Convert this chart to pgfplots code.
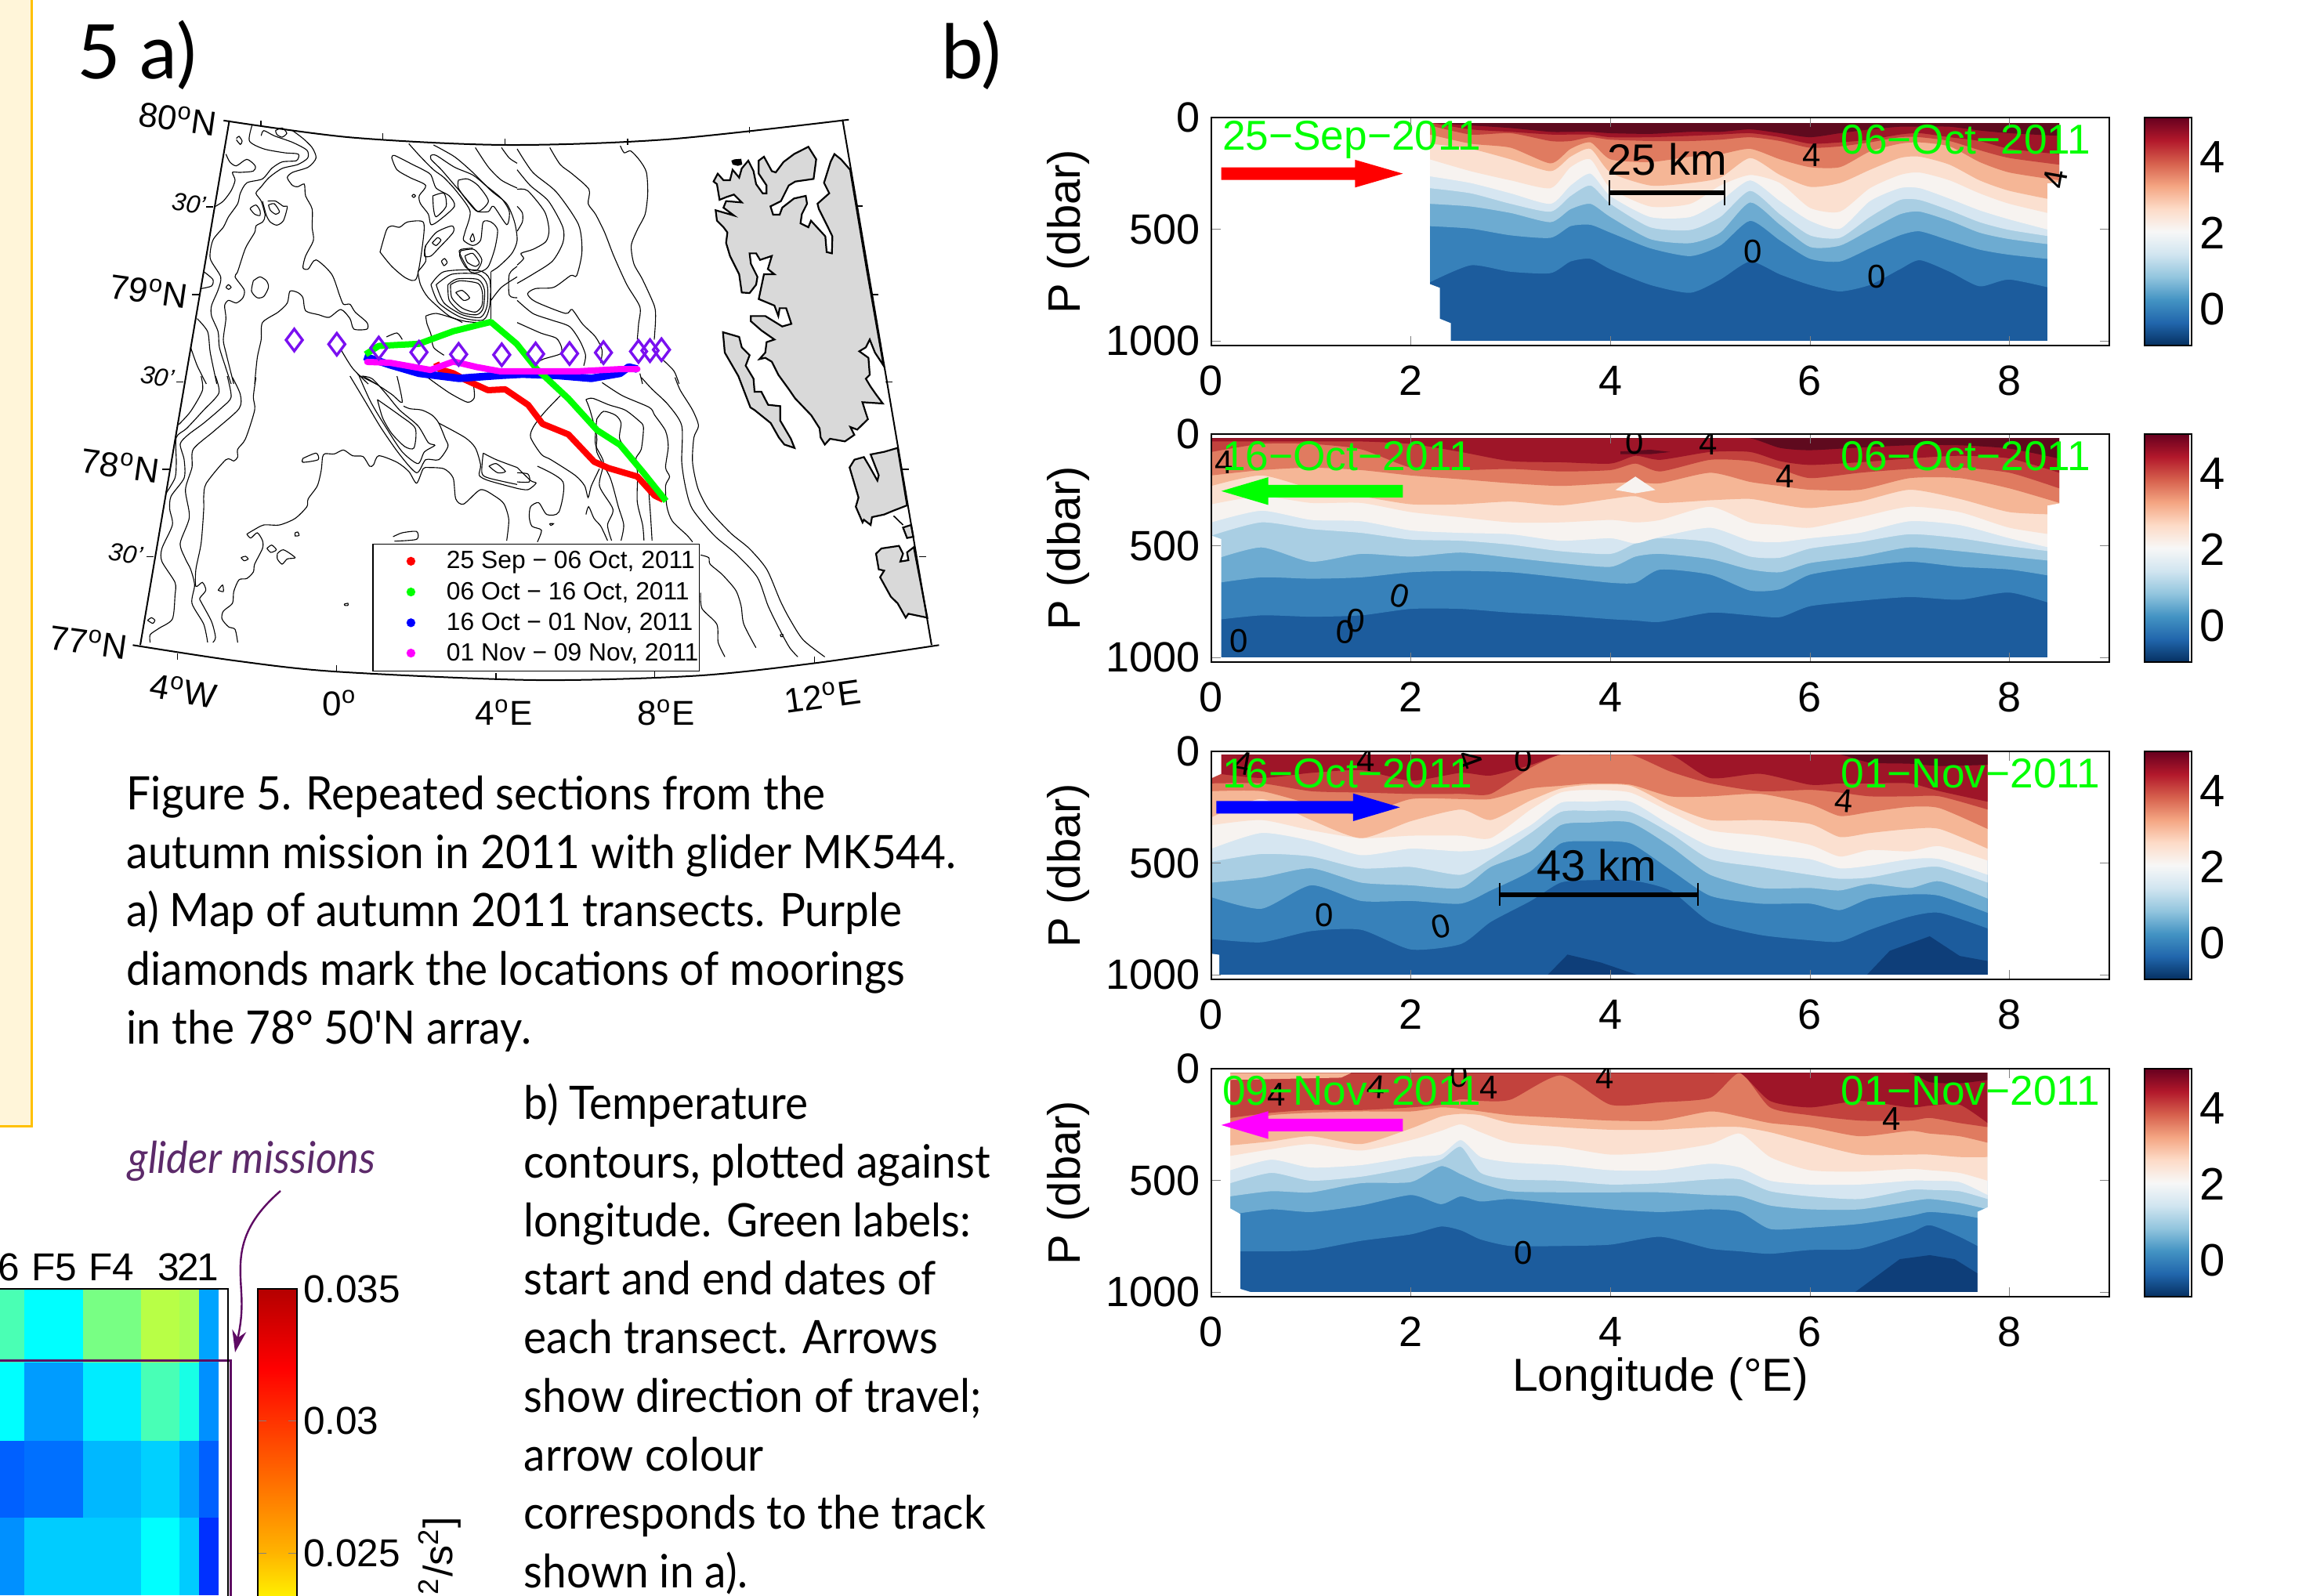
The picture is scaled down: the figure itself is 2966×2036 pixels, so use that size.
\documentclass[border=0pt]{standalone}
\usepackage{fontspec}
\setmainfont{Liberation Sans}
\newfontfamily\gill[FakeStretch=0.935]{Lato}
\newfontfamily\gillw{Lato}
\usepackage{pgfplots}
\usepackage{pgfplotstable}
\usetikzlibrary{arrows.meta}
\pgfplotsset{compat=1.18}
\definecolor{c00}{HTML}{0E3E79}
\definecolor{c0}{HTML}{1C5C9D}
\definecolor{c1}{HTML}{3781BA}
\definecolor{c2}{HTML}{6DABD1}
\definecolor{c3}{HTML}{A9CEE3}
\definecolor{c4}{HTML}{D6E6F1}
\definecolor{c5}{HTML}{F7F3F0}
\definecolor{c6}{HTML}{FBE0D0}
\definecolor{c7}{HTML}{F5B696}
\definecolor{c8}{HTML}{E07B60}
\definecolor{c9}{HTML}{C2423D}
\definecolor{c10}{HTML}{9E1528}
\definecolor{c11}{HTML}{5F0A1E}
\definecolor{gl}{HTML}{5E0A63}
\definecolor{gltext}{HTML}{5C2A6A}
\definecolor{land}{HTML}{D9D9D9}
\definecolor{dia}{HTML}{7A10F0}
\definecolor{mg}{HTML}{FF00FF}
\definecolor{cy}{HTML}{00FFFF}
\definecolor{gr}{HTML}{00FF00}
\pgfplotstableread{
name c1 c2 c3 c4 c5 c6 c7 c8 c9 c10 c11 c12 c13 c14 c15 c16 c17 c18 c19 c20 c21
lon 2.19 2.6 3.0 3.4 3.6 3.8 4.0 4.4 4.8 5.1 5.4 5.7 6.0 6.3 6.6 6.9 7.1 7.4 7.7 8.0 8.5
b1 737 661 690 696 644 632 679 749 784 725 644 702 749 778 749 679 638 690 755 725 772
b2 486 497 527 538 486 480 515 585 620 573 462 550 632 644 585 527 509 550 591 614 638
b3 386 398 427 468 410 386 445 544 562 515 380 480 579 573 503 433 421 462 515 544 573
b4 316 339 386 421 351 304 386 491 503 445 328 433 527 538 445 369 369 415 468 503 538
b5 263 293 339 386 304 251 351 445 445 374 281 374 462 497 374 316 316 363 415 456 515
b6 187 240 281 316 222 187 316 398 386 304 257 293 404 421 316 257 246 281 339 386 439
b7 117 140 187 240 175 140 246 304 293 269 181 257 310 293 234 181 175 211 281 328 374
b8 76 117 135 205 140 111 187 199 175 164 140 187 222 222 152 117 111 129 199 246 281
b9 35 76 70 105 105 88 99 105 105 99 88 105 135 129 111 88 88 105 146 181 211
b10 23 53 64 76 76 76 88 88 82 76 70 88 117 111 99 76 70 88 105 140 164
b11 23 35 47 64 64 64 70 73 64 64 53 70 88 70 53 41 41 41 58 70 82
}\rawA
\pgfplotstabletranspose[colnames from=name]\tabA{\rawA}
\pgfplotstableread{
name c1 c2 c3 c4 c5 c6 c7 c8 c9 c10 c11 c12 c13 c14 c15 c16 c17 c18 c19 c20
lon 0 0.5 1 1.5 2 2.5 3 3.5 4 4.25 4.5 5 5.4 5.7 6 6.5 7 7.5 8 8.5
b1 834 811 817 811 782 782 799 811 828 834 840 799 811 819 770 746 729 741 709 770
b2 670 641 647 641 618 612 618 641 665 665 606 629 700 694 629 594 571 594 606 641
b3 565 507 571 536 548 530 553 577 594 548 536 559 606 618 577 548 507 524 548 571
b4 454 395 425 442 472 477 495 524 536 489 466 483 548 553 512 483 448 466 501 530
b5 395 343 384 390 431 442 448 477 466 489 460 419 477 483 466 442 390 407 466 518
b6 314 278 308 308 349 372 395 395 384 395 384 325 395 407 419 372 325 349 419 454
b7 232 185 243 278 314 314 302 319 290 278 308 296 290 314 331 302 249 290 349 360
b8 185 161 150 161 185 202 220 232 220 214 220 173 214 232 249 249 197 197 243 308
b9 80 44 44 68 150 161 156 167 161 132 167 115 121 156 197 173 156 150 173 243
b10 33 33 33 33 44 80 121 126 132 97 115 80 80 121 138 126 109 97 109 173
b11 19 19 19 19 19 19 19 19 19 19 19 19 19 62 72 60 50 50 65 110
}\rawB
\pgfplotstabletranspose[colnames from=name]\tabB{\rawB}
\pgfplotstableread{
name c1 c2 c3 c4 c5 c6 c7 c8 c9 c10 c11 c12 c13 c14 c15 c16 c17 c18 c19 c20
lon 0 0.5 1 1.5 2 2.5 2.8 3.2 3.5 3.8 4.2 4.6 5 5.5 6 6.3 6.6 7 7.3 7.78
b1 839 854 804 798 886 862 763 669 587 576 576 622 763 821 845 851 798 739 722 792
b2 652 704 599 669 669 681 622 535 412 402 412 529 646 681 681 710 658 640 646 722
b3 587 564 523 587 599 611 517 447 330 318 318 424 552 611 611 622 593 611 581 658
b4 494 459 470 523 517 552 482 365 271 266 271 365 482 517 552 570 564 529 517 587
b5 435 365 400 464 435 447 429 330 230 225 225 330 424 459 482 523 511 482 482 552
b6 330 307 353 388 377 377 388 260 184 172 184 271 353 377 418 470 441 447 424 488
b7 295 213 307 388 312 260 307 219 166 149 154 242 307 307 324 383 365 347 347 435
b8 178 178 236 283 213 213 213 166 154 143 149 201 201 190 236 289 271 248 254 347
b9 143 143 178 184 190 190 190 73 14 14 14 90 143 178 172 184 201 201 201 260
b10 96 119 96 84 131 96 108 61 14 14 14 14 119 100 149 143 143 143 178 225
b11 14 14 14 14 14 14 14 14 14 14 14 14 14 14 14 14 50 55 65 60
}\rawC
\pgfplotstabletranspose[colnames from=name]\tabC{\rawC}
\pgfplotstableread{
name c1 c2 c3 c4 c5 c6 c7 c8 c9 c10 c11 c12 c13 c14 c15 c16 c17 c18 c19 c20 c21
lon 0.19 0.6 1 1.5 2 2.3 2.5 2.7 3 3.5 4 4.5 5 5.3 5.6 6 6.5 7 7.2 7.5 7.78
b1 817 817 811 770 741 706 723 764 793 793 787 752 805 817 828 811 805 735 700 752 817
b2 653 629 641 612 565 606 571 594 583 606 629 641 629 641 717 711 694 659 641 653 676
b3 571 548 553 512 507 436 472 512 548 553 553 553 565 571 612 629 629 594 583 600 629
b4 512 466 501 483 442 407 349 466 495 501 518 512 495 495 548 571 583 542 542 548 583
b5 454 407 442 431 395 384 319 395 419 431 454 454 425 442 501 518 518 501 501 507 565
b6 390 360 337 366 319 278 249 284 331 349 384 372 337 290 395 454 460 448 454 466 501
b7 343 325 302 337 267 214 202 208 243 261 273 273 261 261 284 331 384 384 384 395 395
b8 243 208 197 191 191 173 179 191 208 220 232 232 191 214 243 261 302 278 290 302 331
b9 220 197 185 185 173 161 136 144 138 30 161 150 130 19 173 208 232 232 220 243 261
b10 19 19 19 19 19 19 19 19 19 19 19 19 19 19 144 173 144 173 165 161 243
b11 19 19 19 19 19 19 19 19 19 19 19 19 19 19 19 19 19 19 60 65 50
}\rawD
\pgfplotstabletranspose[colnames from=name]\tabD{\rawD}
\newcommand\bands[1]{%
\addplot[fill=c1,draw=none,smooth,tension=0.4] table[x=lon,y=b1]{#1} \closedcycle;
\addplot[fill=c2,draw=none,smooth,tension=0.4] table[x=lon,y=b2]{#1} \closedcycle;
\addplot[fill=c3,draw=none,smooth,tension=0.4] table[x=lon,y=b3]{#1} \closedcycle;
\addplot[fill=c4,draw=none,smooth,tension=0.4] table[x=lon,y=b4]{#1} \closedcycle;
\addplot[fill=c5,draw=none,smooth,tension=0.4] table[x=lon,y=b5]{#1} \closedcycle;
\addplot[fill=c6,draw=none,smooth,tension=0.4] table[x=lon,y=b6]{#1} \closedcycle;
\addplot[fill=c7,draw=none,smooth,tension=0.4] table[x=lon,y=b7]{#1} \closedcycle;
\addplot[fill=c8,draw=none,smooth,tension=0.4] table[x=lon,y=b8]{#1} \closedcycle;
\addplot[fill=c9,draw=none,smooth,tension=0.4] table[x=lon,y=b9]{#1} \closedcycle;
\addplot[fill=c10,draw=none,smooth,tension=0.4] table[x=lon,y=b10]{#1} \closedcycle;
\addplot[fill=c11,draw=none,smooth,tension=0.4] table[x=lon,y=b11]{#1} \closedcycle;
}
\newcommand\poly[2]{\addplot[fill={#1},draw=none] coordinates {#2} -- cycle;}
\newcommand\cl[4]{\node[font=\fontsize{10.5}{11}\selectfont,rotate=#4] at (axis cs:#1,#2) {#3};}
\newcommand\green[2]{\node[anchor=west,text=gr,font=\fontsize{13.3}{14}\selectfont] at (axis cs:#1,100) {#2};}
\newcommand\frameb{\draw[line width=0.7pt,black!85] (rel axis cs:0,0)--(rel axis cs:1,0); \draw[line width=0.7pt,black!85] (rel axis cs:0,1)--(rel axis cs:1,1);}
\newcommand\ct[1]{\addplot[cnt] coordinates {#1};}
\newcommand\ld[1]{\addplot[fill=land,draw=black,line width=0.55pt] coordinates {#1} -- cycle;}
\pgfplotsset{
 colormap={rdbu}{rgb255=(5,48,97) rgb255=(33,102,172) rgb255=(67,147,195) rgb255=(146,197,222) rgb255=(209,229,240) rgb255=(247,247,247) rgb255=(253,219,199) rgb255=(244,165,130) rgb255=(214,96,77) rgb255=(178,24,43) rgb255=(103,0,31)},
 colormap={hotx}{rgb255(0pt)=(255,255,0); rgb255(19pt)=(255,238,0); rgb255(35pt)=(255,180,0); rgb255(105pt)=(255,0,0); rgb255(135pt)=(180,0,0)},
 cnt/.style={black,line width=0.28pt,smooth,tension=0.45},
 ov/.style={anchor=north west,scale only axis,hide axis,y dir=reverse,clip=false,xmin=0,ymin=0},
 sec/.style={scale only axis,width=286.5pt,height=72.75pt,xmin=0,xmax=9,ymin=0,ymax=1020,y dir=reverse,
  xtick={0,2,4,6,8},xticklabels={0,2,4,6,8},ytick={0,500,1000},yticklabels={0,500,1000},
  tick align=inside,major tick length=3pt,axis on top,
  tick label style={font=\fontsize{13.5}{14}\selectfont},
  xticklabel style={yshift=-3pt},
  ylabel={P (dbar)},ylabel style={font=\fontsize{14.5}{15}\selectfont,at={(axis description cs:-0.159,0.5)},anchor=center},
  colormap name=rdbu,colorbar,point meta min=-0.95,point meta max=5.03,
  colorbar style={at={(1.0393,1)},anchor=north west,width=15pt,height=72.75pt,scale only axis,
   ytick={0,2,4},yticklabels={0,2,4},ticklabel pos=right,major tick length=0pt,
   tick label style={font=\fontsize{14.5}{15}\selectfont,xshift=-1pt}}}
}
\newcommand\capl[3]{\node[anchor=base west,inner sep=0pt,font=\gill\fontsize{14.7}{15}\selectfont] at (#1,#2) {#3};}
\begin{document}
\begin{tikzpicture}[x=0.25pt,y=-0.25pt]
\path[use as bounding box] (0,0) rectangle (2966,2036);
\draw[fill={rgb,255:red,255;green,245;blue,217},draw={rgb,255:red,255;green,192;blue,0},line width=0.75pt] (-10,-10) rectangle (40,1437);
\node[anchor=base west,inner sep=0pt,font=\gillw\fontsize{24}{25}\selectfont] at (98,100) {5 a)};
\node[anchor=base west,inner sep=0pt,font=\gillw\fontsize{24}{25}\selectfont] at (1201,100) {b)};
\capl{161}{1033}{Figure 5. Repeated sections from the}
\capl{161}{1108}{autumn mission in 2011 with glider MK544.}
\capl{161}{1182}{a) Map of autumn 2011 transects. Purple}
\capl{161}{1257}{diamonds mark the locations of moorings}
\capl{161}{1332}{in the 78° 50'N array.}
\capl{668}{1428}{b) Temperature}
\capl{668}{1503}{contours, plotted against}
\capl{668}{1578}{longitude. Green labels:}
\capl{668}{1652}{start and end dates of}
\capl{668}{1727}{each transect. Arrows}
\capl{668}{1802}{show direction of travel;}
\capl{668}{1877}{arrow colour}
\capl{668}{1951}{corresponds to the track}
\capl{668}{2026}{shown in a).}
% ---- bathymetry, north-west tile
\begin{axis}[ov,at={(40pt,-37.5pt)},width=125pt,height=85pt,xmax=1500,ymax=1020]
\ct{(385,140)(400,170)(425,185)(465,160)(497,185)(490,205)(440,210)(410,210)(420,240)(405,280)(375,320)(345,340)}
\ct{(485,30)(475,90)(530,120)(610,135)(662,140)(655,165)(600,170)(560,195)(525,235)(465,250)(440,290)(430,330)(395,380)(375,420)(335,470)(325,540)(365,610)(355,660)(330,720)(330,760)(355,820)(360,880)(385,960)(405,1020)}
\ct{(520,70)(530,50)(570,70)(640,95)(695,125)(698,155)(660,180)(600,195)(550,230)(520,265)(500,290)(520,320)(535,375)(525,400)(500,415)(495,440)(460,500)(430,590)(420,610)(455,660)(450,690)(425,710)(395,700)(380,720)(385,770)(375,850)(385,900)(415,1020)}
\ct{(640,50)(680,80)(715,115)(730,155)(700,190)(640,210)(620,230)(640,260)(660,265)(685,255)(690,300)(715,350)(715,420)(720,470)(690,530)(680,575)(700,580)(730,545)(790,600)(820,680)(835,715)(860,715)(880,745)(925,785)(925,810)(875,810)(860,770)(825,735)(780,765)(740,755)(690,740)(680,690)(660,670)(630,665)(620,710)(585,745)(525,785)(520,850)(505,920)(495,1020)}
\ct{(545,320)(575,320)(605,340)(620,342)(605,395)(580,412)(555,400)(540,375)(525,320)}
\ct{(548,335)(570,330)(590,360)(575,370)(555,355)(548,335)}
\ct{(480,345)(500,335)(515,355)(515,375)(495,370)(478,350)(480,345)}
\ct{(425,80)(435,72)(447,90)(440,103)(425,85)}
\ct{(490,625)(515,610)(540,625)(548,650)(530,685)(505,690)(483,665)(490,625)}
\ct{(385,650)(395,640)(405,650)(395,658)(385,650)}
\ct{(575,50)(600,40)(618,60)(600,75)(580,65)(575,50)}
\ct{(300,590)(335,620)(330,645)(290,655)}
\ct{(1020,155)(1030,145)(1100,180)(1140,200)(1170,220)(1190,270)(1240,300)(1260,340)(1200,395)(1170,410)(1160,370)(1130,330)(1125,300)(1150,260)(1090,230)(1040,200)(1020,155)}
\ct{(1177,300)(1220,290)(1228,340)(1190,380)(1180,350)(1177,300)}
\ct{(975,515)(1000,430)(1020,415)(1050,420)(1080,400)(1140,400)(1140,470)(1115,615)(1075,615)(1020,570)(975,515)}
\ct{(1170,145)(1190,145)(1260,190)(1330,220)(1380,260)(1440,310)(1470,360)(1460,410)(1410,340)(1390,360)(1350,360)(1330,340)(1270,270)(1210,200)(1170,160)(1170,145)}
\ct{(1275,240)(1310,235)(1350,260)(1390,320)(1350,360)(1310,320)(1275,270)(1275,240)}
\ct{(1085,100)(1130,150)(1180,200)(1220,230)(1270,285)(1320,360)(1300,440)(1295,470)(1330,490)(1360,470)(1370,400)(1400,400)(1425,430)(1415,500)(1390,570)(1360,590)(1320,590)(1280,520)(1285,505)(1330,500)}
\ct{(1300,530)(1330,520)(1355,555)(1340,570)(1310,555)(1300,530)}
\ct{(1285,510)(1335,505)(1365,545)(1345,585)(1305,575)(1280,530)(1285,510)}
\ct{(1150,490)(1190,440)(1250,415)(1255,440)(1200,500)(1170,530)(1145,530)(1150,490)}
\ct{(1175,480)(1195,460)(1208,470)(1190,490)(1175,480)}
\ct{(1210,550)(1222,540)(1232,555)(1220,567)(1210,550)}
\ct{(1097,300)(1104,294)(1111,300)(1104,306)(1097,300)}
\ct{(1320,465)(1330,445)(1337,470)(1325,475)(1320,465)}
\ct{(1120,590)(1150,550)(1145,510)(1150,490)}
\ct{(1120,590)(1130,640)(1160,690)(1240,760)(1300,780)(1350,785)}
\ct{(1265,670)(1290,662)(1318,690)(1295,700)(1265,670)}
\ct{(1245,640)(1280,625)(1350,635)(1367,670)(1365,720)(1340,745)(1290,730)(1250,690)(1245,640)}
\ct{(1235,640)(1270,618)(1350,620)(1375,660)(1370,730)(1345,755)(1285,745)(1240,700)(1235,640)}
\ct{(1190,640)(1250,600)(1350,600)(1385,640)(1385,720)(1360,765)(1290,755)(1220,710)(1190,640)}
\ct{(1170,640)(1220,590)(1350,585)(1395,620)(1395,720)(1370,775)(1285,765)(1200,710)(1170,640)}
\addplot[black,line width=0.28pt] coordinates {(1400,590)(1400,770)};
\ct{(1150,760)(1190,750)(1260,770)(1290,785)}
\ct{(1150,760)(1155,790)(1170,830)(1180,880)(1220,910)}
\ct{(1180,105)(1260,150)(1330,210)(1400,280)(1460,330)(1490,400)(1500,470)(1480,520)(1430,570)(1400,590)}
\ct{(1340,115)(1390,190)(1440,240)(1500,270)}
\ct{(1440,115)(1470,155)(1500,175)}
\ct{(1500,570)(1470,600)(1470,680)(1500,690)}
\ct{(1400,700)(1440,650)(1500,610)}
\ct{(826,890)(870,960)(930,1020)}
\ct{(890,985)(920,1000)(960,1020)}
\ct{(275,770)(315,820)(325,900)(350,1020)}
\ct{(250,880)(275,950)(310,1020)}
\ct{(1000,840)(1040,825)(1060,850)}
\end{axis}
% ---- bathymetry and land, north-east tile
\begin{axis}[ov,at={(165pt,-37.5pt)},width=125pt,height=85pt,xmax=1500,ymax=1020]
\ct{(395,108)(410,135)(435,128)(470,165)(495,210)(500,290)(490,370)(460,430)(437,490)(447,560)(480,620)(525,720)(530,770)(525,850)}
\ct{(125,115)(165,180)(210,215)(275,275)(272,330)(300,370)(335,440)(370,530)(420,640)(470,725)(465,790)(460,850)}
\ct{(0,120)(60,210)(150,285)(235,410)(248,515)(228,605)(205,605)(140,650)(70,655)(40,675)(70,705)(185,750)(210,735)(250,790)(300,840)(325,890)(320,940)}
\ct{(0,200)(50,260)(120,320)(175,420)(175,480)(135,550)(60,600)(0,635)}
\ct{(0,275)(40,280)(105,360)(122,430)(110,475)(60,505)(15,520)(25,540)(0,565)}
\ct{(0,340)(20,365)(20,400)(0,435)}
\ct{(0,700)(60,750)(130,775)(200,800)(240,855)(262,910)(255,950)}
\ct{(0,785)(90,825)(150,845)(170,880)(165,905)(100,925)(75,940)}
\ct{(555,925)(600,970)(620,1020)}
\ct{(470,980)(480,1020)}
\ld{(815,240)(825,200)(850,230)(860,195)(885,165)(905,205)(915,255)(940,290)(955,290)(955,260)(925,215)(925,165)(945,150)(975,205)(990,210)(1020,170)(1060,140)(1115,112)(1145,160)(1135,235)(1065,245)(1040,260)(1010,320)(970,340)(980,372)(1005,372)(1015,345)(1060,310)(1105,300)(1110,330)(1090,370)(1085,405)(1115,420)(1125,395)(1180,455)(1185,515)(1205,520)(1207,455)(1190,420)(1155,350)(1150,330)(1195,290)(1175,250)(1200,170)(1215,140)(1240,160)(1275,200)(1340,590)(1403,950)(1370,900)(1350,850)(1335,880)(1310,895)(1345,920)(1350,985)(1335,1000)(1353,1030)(1374,1060)(1400,1095)(1322,1090)(1333,1125)(1343,1155)(1302,1195)(1276,1185)(1291,1215)(1255,1240)(1198,1230)(1178,1252)(1162,1225)(1158,1190)(1126,1140)(1064,1075)(1040,1040)(1000,985)(975,935)(950,920)(928,925)(950,900)(955,860)(985,850)(935,815)(895,780)(895,760)(950,760)(1015,800)(1050,790)(1030,730)(1005,730)(1000,760)(985,720)(925,695)(945,600)(985,600)(960,580)(975,530)(930,545)(915,520)(890,520)(895,560)(920,610)(915,640)(890,672)(860,670)(850,600)(815,530)(800,480)(805,440)(790,420)(765,395)(760,355)(830,375)(790,345)(800,320)(860,325)(830,295)(800,305)(775,315)(765,255)(752,245)(768,215)(790,240)}
\ld{(788,822)(850,840)(860,880)(890,910)(875,950)(905,1000)(909,1050)(935,1050)(961,1100)(1007,1105)(1007,1160)(1048,1230)(1062,1265)(1023,1252)(1002,1225)(971,1170)(909,1120)(893,1110)(847,990)(795,900)}
\addplot[fill=black,draw=none] coordinates {(820,165)(832,160)(858,158)(862,180)(845,185)(825,180)} -- cycle;
\end{axis}
% ---- bathymetry, south-west tile
\begin{axis}[ov,at={(40pt,-120pt)},width=125pt,height=85pt,xmax=1500,ymax=1020]
\ct{(290,0)(295,55)(250,135)(205,185)}
\ct{(345,0)(358,65)(300,130)(235,200)(195,235)(195,330)(190,390)(155,450)}
\ct{(390,0)(405,80)(370,120)(300,180)(240,225)(210,260)(225,320)(225,390)(175,460)(170,510)(180,570)(140,660)(140,710)(190,790)(190,840)(180,930)(130,965)(95,990)(95,1020)}
\ct{(410,5)(440,70)(435,125)(340,210)(260,280)(255,350)(230,435)(245,540)(210,640)(230,700)(250,740)(265,800)(255,870)(300,950)(315,1020)}
\ct{(500,5)(490,80)(495,130)(460,240)(430,280)(430,310)(415,325)(385,320)(310,410)(300,460)(300,510)(290,640)(270,740)(270,805)(295,790)(308,820)(285,850)(290,865)(330,940)(345,1000)(335,1020)}
\ct{(465,605)(490,590)(530,570)(590,570)(650,545)(695,500)(700,470)(735,420)(750,360)(755,310)(765,297)(800,298)(835,283)(870,305)(910,308)(935,345)(950,340)(970,305)(1040,330)(1085,365)(1115,410)(1140,355)(1160,350)(1220,355)(1255,390)(1265,470)(1295,490)(1360,435)(1415,460)(1450,490)(1468,550)(1460,630)}
\ct{(465,605)(480,620)(505,600)(525,630)(525,660)(495,720)(490,750)(465,775)(435,780)(415,825)(410,870)(375,900)(370,930)(395,960)(420,970)(430,1020)}
\ct{(680,315)(730,295)(738,320)(680,330)(680,315)}
\ct{(650,600)(660,597)(665,610)(650,612)(650,600)}
\ct{(542,660)(560,647)(578,665)(557,675)(542,660)}
\ct{(582,680)(605,665)(650,695)(620,700)(600,720)(582,700)(582,680)}
\ct{(443,695)(460,690)(470,700)(455,707)(443,695)}
\ct{(355,820)(372,800)(375,825)(355,820)}
\ct{(838,873)(852,870)(852,878)(840,878)(838,873)}
\ct{(85,935)(100,925)(113,935)(105,947)(85,935)}
\ct{(1025,615)(1060,600)(1115,595)(1115,625)(1030,632)}
\ct{(860,0)(920,100)(980,200)(1050,300)(1115,370)(1150,320)(1200,320)(1235,270)(1225,240)(1200,180)(1175,150)(1135,130)(1090,125)(1065,115)}
\ct{(895,0)(940,100)(1000,200)(1060,290)(1120,335)(1145,290)(1185,265)(1160,255)(1120,190)(1050,130)(1000,70)(945,10)(905,0)}
\ct{(965,90)(1050,150)(1110,200)(1105,275)(1070,270)(1020,220)(985,160)(965,90)}
\ct{(910,0)(960,30)(1020,70)(1060,100)(1040,0)}
\ct{(1200,180)(1300,235)(1340,275)(1360,340)(1355,380)(1390,400)(1500,430)}
\ct{(1370,295)(1420,320)(1500,350)}
\ct{(1370,295)(1365,370)(1390,390)(1500,415)}
\ct{(1392,345)(1420,335)(1455,365)(1425,370)(1392,345)}
\ct{(1150,0)(1205,40)(1250,70)(1310,100)(1335,85)(1335,50)(1330,20)}
\end{axis}
% ---- bathymetry and land, south-east tile
\begin{axis}[ov,at={(165pt,-120pt)},width=135pt,height=90pt,xmax=1568,ymax=1080]
\ct{(585,5)(605,55)(650,130)(672,190)(655,235)(650,330)(670,430)(710,510)(790,600)(860,660)(925,740)(975,860)(1010,930)(1060,1010)(1140,1075)}
\ct{(460,5)(500,50)(560,110)(610,190)(610,330)(625,430)(650,510)(730,610)(810,680)(890,770)(930,880)(975,975)(1010,1040)(1040,1075)}
\ct{(315,25)(390,75)(490,120)(510,150)(550,210)(560,270)(550,350)(565,385)(550,420)(555,500)(575,555)(630,610)(650,635)}
\ct{(255,90)(280,85)(340,110)(400,130)(450,170)(468,195)(460,280)(440,320)(480,380)(492,500)(500,630)}
\ct{(295,165)(320,135)(365,150)(385,180)(380,240)(415,300)(445,360)(445,480)(465,570)(470,630)}
\ct{(255,90)(270,130)(295,230)(295,290)(345,390)(375,500)(395,570)(385,630)}
\ct{(295,165)(290,260)(320,330)(305,420)(355,510)(335,570)(350,630)}
\ct{(255,530)(265,500)(285,545)(310,575)(335,630)}
\ct{(160,75)(100,140)(60,195)(50,235)(90,300)(125,320)(215,380)(250,420)(263,465)(275,420)(305,355)}
\ct{(0,350)(50,400)(70,410)(40,435)(0,430)}
\ct{(0,370)(40,375)(45,405)(0,405)}
\ct{(75,345)(170,405)(155,520)(110,530)(80,485)(50,500)(45,540)(55,575)(90,590)(75,635)}
\ct{(680,685)(710,695)(715,720)(760,760)(810,820)(830,880)(840,950)(885,1040)}
\ct{(680,830)(685,890)(740,950)(745,1020)(770,1075)}
\ct{(120,565)(135,565)(125,572)(120,565)}
\ct{(975,990)(985,990)(985,998)(978,998)(975,990)}
\ld{(1232,350)(1250,320)(1285,310)(1305,345)(1335,400)(1340,380)(1310,300)(1360,290)(1410,275)(1445,495)(1395,515)(1360,530)(1315,540)(1310,570)(1285,550)(1280,560)(1255,500)(1265,465)}
\ld{(1330,680)(1350,660)(1415,650)(1430,680)(1420,710)(1450,705)(1445,675)(1470,655)(1520,925)(1450,910)(1440,925)(1410,870)(1385,845)(1345,770)(1360,745)(1340,740)}
\ld{(1430,580)(1460,570)(1468,615)(1445,620)}
\addplot[black,line width=0.4pt] coordinates {(1395,535)(1430,570)};
\end{axis}
% ---- map
\begin{axis}[at={(20pt,-25pt)},anchor=north west,scale only axis,width=287.5pt,height=210pt,xmin=0,xmax=1568,ymin=0,ymax=1562,y dir=reverse,hide axis,clip=false]
% frame
\addplot[black,line width=0.5pt,smooth] coordinates {(280,100)(500,140)(770,158)(1050,145)(1368,98)};
\addplot[black,line width=0.5pt,smooth] coordinates {(122,1345)(300,1382)(476,1408)(820,1428)(1100,1418)(1308,1388)(1525,1345)};
\addplot[black,line width=0.5pt] coordinates {(290,100)(135,1345)};
\addplot[black,line width=0.5pt] coordinates {(1357,98)(1512,1345)};
\addplot[black,line width=0.3pt] coordinates {(345,100)(345,115)};
\addplot[black,line width=0.3pt] coordinates {(557,130)(557,145)};
\addplot[black,line width=0.3pt] coordinates {(770,143)(770,158)};
\addplot[black,line width=0.3pt] coordinates {(983,143)(983,158)};
\addplot[black,line width=0.3pt] coordinates {(1195,115)(1195,130)};
\addplot[black,line width=0.3pt] coordinates {(200,1365)(200,1380)};
\addplot[black,line width=0.3pt] coordinates {(476,1393)(476,1408)};
\addplot[black,line width=0.3pt] coordinates {(754,1412)(754,1427)};
\addplot[black,line width=0.3pt] coordinates {(1030,1405)(1030,1420)};
\addplot[black,line width=0.3pt] coordinates {(1308,1373)(1308,1388)};
\addplot[black,line width=0.3pt] coordinates {(262,305)(250,305)};
\addplot[black,line width=0.3pt] coordinates {(237,513)(225,513)};
\addplot[black,line width=0.3pt] coordinates {(210,720)(198,720)};
\addplot[black,line width=0.3pt] coordinates {(185,928)(173,928)};
\addplot[black,line width=0.3pt] coordinates {(158,1135)(146,1135)};
\addplot[black,line width=0.3pt] coordinates {(1380,303)(1392,303)};
\addplot[black,line width=0.3pt] coordinates {(1408,513)(1420,513)};
\addplot[black,line width=0.3pt] coordinates {(1432,720)(1444,720)};
\addplot[black,line width=0.3pt] coordinates {(1460,928)(1472,928)};
\addplot[black,line width=0.3pt] coordinates {(1490,1135)(1502,1135)};
% moorings
\addplot[only marks,mark=diamond,mark size=3.5pt,mark options={draw=dia,line width=0.85pt}] coordinates {(403,621)(477,631)(550,640)(620,650)(689,655)(764,656)(823,654)(882,653)(941,651)(1002,648)(1022,646)(1042,644)};
% tracks
\addplot[red,line width=2pt,line join=round] coordinates {(650,675)(655,690)(680,700)(700,715)(740,740)(770,738)(810,775)(835,820)(880,845)(925,910)(950,925)(1000,945)(1030,990)(1045,1000)};
\addplot[blue,line width=2.4pt,line join=round] coordinates {(525,660)(570,680)(620,700)(690,712)(760,705)(800,702)(860,705)(920,712)(970,700)(985,685)(1000,690)};
\addplot[gr,line width=2pt,line join=round] coordinates {(527,655)(550,635)(620,630)(680,600)(745,578)(790,630)(825,690)(880,760)(930,835)(970,870)(1010,935)(1050,1003)};
\addplot[mg,line width=2pt,line join=round,line cap=round] coordinates {(530,673)(570,675)(640,692)(680,672)(720,685)(760,695)(830,695)(900,695)(970,690)(1000,690)};
% legend box
\addplot[fill=white,draw=black,line width=0.3pt] coordinates {(540,1105)(1108,1105)(1108,1407)(540,1407)} -- cycle;
\addplot[only marks,mark=*,mark size=1.2pt,red] coordinates {(606,1146)};
\addplot[only marks,mark=*,mark size=1.2pt,gr] coordinates {(606,1219)};
\addplot[only marks,mark=*,mark size=1.2pt,blue] coordinates {(606,1292)};
\addplot[only marks,mark=*,mark size=1.2pt,mg] coordinates {(606,1364)};
\node[anchor=west,inner sep=0pt,font=\fontsize{7.95}{8}\selectfont] at (axis cs:667,1148) {25 Sep − 06 Oct, 2011};
\node[anchor=west,inner sep=0pt,font=\fontsize{7.95}{8}\selectfont] at (axis cs:667,1221) {06 Oct − 16 Oct, 2011};
\node[anchor=west,inner sep=0pt,font=\fontsize{7.95}{8}\selectfont] at (axis cs:667,1294) {16 Oct − 01 Nov, 2011};
\node[anchor=west,inner sep=0pt,font=\fontsize{7.95}{8}\selectfont] at (axis cs:667,1366) {01 Nov − 09 Nov, 2011};
% map labels
\node[rotate=-8,font=\fontsize{11}{12}\selectfont] at (axis cs:200,95) {80\textsuperscript{o}N};
\node[rotate=-8,font=\fontsize{11}{12}\selectfont] at (axis cs:150,505) {79\textsuperscript{o}N};
\node[rotate=-8,font=\fontsize{11}{12}\selectfont] at (axis cs:100,918) {78\textsuperscript{o}N};
\node[rotate=-8,font=\fontsize{11}{12}\selectfont] at (axis cs:45,1337) {77\textsuperscript{o}N};
\node[rotate=-8,font=\itshape\fontsize{8}{9}\selectfont] at (axis cs:220,297) {30'};
\node[rotate=-8,font=\itshape\fontsize{8}{9}\selectfont] at (axis cs:165,708) {30'};
\node[rotate=-8,font=\itshape\fontsize{8}{9}\selectfont] at (axis cs:110,1128) {30'};
\node[rotate=-10,font=\fontsize{11}{12}\selectfont] at (axis cs:210,1452) {4\textsuperscript{o}W};
\node[font=\fontsize{11}{12}\selectfont] at (axis cs:482,1483) {0\textsuperscript{o}};
\node[font=\fontsize{11}{12}\selectfont] at (axis cs:768,1505) {4\textsuperscript{o}E};
\node[font=\fontsize{11}{12}\selectfont] at (axis cs:1050,1505) {8\textsuperscript{o}E};
\node[rotate=8,font=\fontsize{11}{12}\selectfont] at (axis cs:1322,1465) {12\textsuperscript{o}E};
\end{axis}
% ---- section 1
\begin{axis}[sec,at={(386.5pt,-37.5pt)},anchor=north west]
\poly{c0}{(0,1000)(9,1000)(9,0)(0,0)}
\bands{\tabA}
\poly{white}{(0,0)(2.19,0)(2.19,745)(2.29,762)(2.29,900)(2.4,920)(2.4,1020)(0,1020)}
\poly{white}{(8.5,0)(9,0)(9,1020)(8.38,1020)(8.38,295)(8.5,290)}
\poly{white}{(0,0)(9,0)(9,23)(0,23)}
\poly{white}{(0,1000)(9,1000)(9,1020)(0,1020)}
\poly{red}{(0.1,223)(1.44,223)(1.44,189)(1.92,251)(1.44,313)(1.44,279)(0.1,279)}
\addplot[black,line width=1.5pt] coordinates {(3.99,336)(5.14,336)};
\addplot[black,line width=0.5pt] coordinates {(3.99,281)(3.99,391)};
\addplot[black,line width=0.5pt] coordinates {(5.14,281)(5.14,391)};
\node[font=\fontsize{14}{15}\selectfont] at (axis cs:4.57,187) {25 km};
\cl{6.02}{170}{4}{0}\cl{5.43}{600}{0}{0}\cl{6.67}{711}{0}{0}\cl{8.46}{275}{4}{80}
\green{0}{25−Sep−2011}\green{6.2}{06−Oct−2011}
\frameb
\end{axis}
% ---- section 2
\begin{axis}[sec,at={(386.5pt,-138.5pt)},anchor=north west]
\poly{c0}{(0,1000)(9,1000)(9,0)(0,0)}
\bands{\tabB}
\poly{c11}{(4.1,78)(4.4,70)(4.6,80)(4.4,90)(4.1,90)}
\poly{c5}{(4.05,250)(4.25,190)(4.45,250)(4.25,265)}
\poly{white}{(0,454)(0.1,470)(0.1,1020)(0,1020)}
\poly{white}{(8.5,0)(9,0)(9,1020)(8.38,1020)(8.38,320)(8.5,310)}
\poly{white}{(0,0)(9,0)(9,19)(0,19)}
\poly{white}{(0,1000)(9,1000)(9,1020)(0,1020)}
\poly{gr}{(1.92,227)(0.57,227)(0.57,193)(0.1,255)(0.57,317)(0.57,283)(1.92,283)}
\cl{0.13}{126}{4}{0}\cl{4.24}{39}{0}{0}\cl{4.98}{42}{4}{0}\cl{5.75}{190}{4}{0}
\cl{1.89}{725}{0}{-15}\cl{1.45}{834}{0}{-5}\cl{1.34}{884}{0}{-3}\cl{0.28}{924}{0}{0}
\green{0}{16−Oct−2011}\green{6.2}{06−Oct−2011}
\frameb
\end{axis}
% ---- section 3
\begin{axis}[sec,at={(386.5pt,-239.75pt)},anchor=north west]
\poly{c0}{(0,1000)(9,1000)(9,0)(0,0)}
\bands{\tabC}
\poly{c00}{(3.37,1000)(3.57,909)(3.9,944)(4.27,1000)}
\poly{c00}{(6.57,1000)(6.8,892)(7.2,827)(7.5,915)(7.78,938)(7.78,1000)}
\poly{white}{(0,0)(0.1,0)(0.1,100)(0,120)}
\poly{white}{(0,905)(0.08,910)(0.08,1020)(0,1020)}
\poly{white}{(7.78,0)(9,0)(9,1020)(7.78,1020)}
\poly{white}{(0,0)(9,0)(9,14)(0,14)}
\poly{white}{(0,1000)(9,1000)(9,1020)(0,1020)}
\poly{blue}{(0.05,222)(1.42,222)(1.42,188)(1.89,250)(1.42,312)(1.42,278)(0.05,278)}
\addplot[black,line width=1.5pt] coordinates {(2.89,640)(4.88,640)};
\addplot[black,line width=0.5pt] coordinates {(2.89,588)(2.89,692)};
\addplot[black,line width=0.5pt] coordinates {(4.88,588)(4.88,692)};
\node[font=\fontsize{14}{15}\selectfont] at (axis cs:3.86,511) {43 km};
\cl{0.32}{55}{4}{-10}\cl{1.55}{37}{4}{0}\cl{2.59}{37}{4}{-70}\cl{3.13}{37}{0}{0}\cl{6.34}{222}{4}{-5}\cl{1.13}{733}{0}{0}\cl{2.3}{784}{0}{15}
\green{0}{16−Oct−2011}\green{6.2}{01−Nov−2011}
\frameb
\end{axis}
% ---- section 4
\begin{axis}[sec,at={(386.5pt,-341pt)},anchor=north west,xlabel={Longitude (°E)},xlabel style={font=\fontsize{14.75}{15}\selectfont,at={(axis description cs:0.5,-0.36)},anchor=center}]
\poly{c0}{(0,1000)(9,1000)(9,0)(0,0)}
\bands{\tabD}
\poly{c00}{(6.45,1000)(6.9,852)(7.2,834)(7.45,852)(7.68,916)(7.68,1000)}
\poly{c7}{(0.19,19)(1.4,19)(1.3,40)(0.19,50)}
\poly{white}{(0,0)(0.19,0)(0.19,625)(0.29,650)(0.29,985)(0.4,1000)(0.4,1020)(0,1020)}
\poly{white}{(7.78,0)(9,0)(9,1020)(7.68,1020)(7.68,640)(7.78,620)}
\poly{white}{(0,0)(9,0)(9,19)(0,19)}
\poly{white}{(0,1000)(9,1000)(9,1020)(0,1020)}
\poly{mg}{(1.92,224)(0.57,224)(0.57,190)(0.1,252)(0.57,314)(0.57,280)(1.92,280)}
\cl{0.65}{115}{4}{0}\cl{1.65}{80}{4}{-5}\cl{2.48}{33}{0}{0}\cl{2.78}{85}{4}{0}\cl{3.94}{39}{4}{0}\cl{6.82}{226}{4}{0}\cl{3.13}{822}{0}{0}
\green{0}{09−Nov−2011}\green{6.2}{01−Nov−2011}
\frameb
\end{axis}
% ---- heat map
\begin{axis}[at={(-15pt,-411.25pt)},anchor=north west,scale only axis,width=87.75pt,height=113.75pt,xmin=-60,xmax=291,ymin=1645,ymax=2100,y dir=reverse,clip=false,
 axis on top,xtick={-4,69,142,215,240,265},xticklabels={F6,F5,F4,3,2,1},xticklabel pos=top,x tick label style={yshift=-1pt},ytick=\empty,major tick length=0pt,
 tick label style={font=\fontsize{12.4}{13}\selectfont},axis line style={line width=0.3pt},
 colormap name=hotx,colorbar,point meta min=0.0215,point meta max=0.035,
 colorbar style={at={(1.108,1)},anchor=north west,width=12.5pt,height=113.75pt,scale only axis,ytick={0.025,0.03,0.035},yticklabels={0.025,0.03,0.035},ticklabel pos=right,tick align=inside,major tick length=2.7pt,scaled y ticks=false,
 tick label style={font=\fontsize{12.4}{13}\selectfont,xshift=-1.5pt}}]
\poly{rgb,255:red,74;green,255;blue,180}{(-60,1645)(31,1645)(31,1739)(-60,1739)}
\poly{cy}{(31,1645)(106,1645)(106,1739)(31,1739)}
\poly{rgb,255:red,120;green,255;blue,132}{(106,1645)(180,1645)(180,1739)(106,1739)}
\poly{rgb,255:red,184;green,255;blue,70}{(180,1645)(229,1645)(229,1739)(180,1739)}
\poly{rgb,255:red,168;green,255;blue,84}{(229,1645)(254,1645)(254,1739)(229,1739)}
\poly{rgb,255:red,0;green,164;blue,255}{(254,1645)(279,1645)(279,1739)(254,1739)}
\poly{cy}{(-60,1739)(31,1739)(31,1839)(-60,1839)}
\poly{rgb,255:red,0;green,156;blue,255}{(31,1739)(106,1739)(106,1839)(31,1839)}
\poly{rgb,255:red,0;green,236;blue,255}{(106,1739)(180,1739)(180,1839)(106,1839)}
\poly{rgb,255:red,72;green,255;blue,182}{(180,1739)(229,1739)(229,1839)(180,1839)}
\poly{rgb,255:red,24;green,255;blue,230}{(229,1739)(254,1739)(254,1839)(229,1839)}
\poly{rgb,255:red,0;green,144;blue,255}{(254,1739)(279,1739)(279,1839)(254,1839)}
\poly{rgb,255:red,0;green,96;blue,255}{(-60,1839)(31,1839)(31,1937)(-60,1937)}
\poly{rgb,255:red,0;green,112;blue,255}{(31,1839)(106,1839)(106,1937)(31,1937)}
\poly{rgb,255:red,0;green,184;blue,255}{(106,1839)(180,1839)(180,1937)(106,1937)}
\poly{rgb,255:red,0;green,208;blue,255}{(180,1839)(229,1839)(229,1937)(180,1937)}
\poly{rgb,255:red,0;green,160;blue,255}{(229,1839)(254,1839)(254,1937)(229,1937)}
\poly{rgb,255:red,0;green,96;blue,255}{(254,1839)(279,1839)(279,1937)(254,1937)}
\poly{rgb,255:red,0;green,144;blue,255}{(-60,1937)(31,1937)(31,2036)(-60,2036)}
\poly{rgb,255:red,0;green,204;blue,255}{(31,1937)(180,1937)(180,2036)(31,2036)}
\poly{cy}{(180,1937)(229,1937)(229,2036)(180,2036)}
\poly{rgb,255:red,0;green,204;blue,255}{(229,1937)(254,1937)(254,2036)(229,2036)}
\poly{rgb,255:red,0;green,48;blue,255}{(254,1937)(279,1937)(279,2036)(254,2036)}
\addplot[gl,line width=0.75pt] coordinates {(-60,1736)(294,1736)(294,2100)};
\end{axis}
\node[anchor=base west,inner sep=0pt,text=gltext,font=\gill\itshape\fontsize{14}{15}\selectfont] at (163,1497) {glider missions};
\draw[gl,line width=0.6pt,-{Stealth[length=28*0.25pt,width=18*0.25pt]}] (358,1520) .. controls (300,1570) and (306,1610) .. (308,1650) .. controls (310,1680) and (305,1700) .. (300,1726);
\node[rotate=90,anchor=base east,inner sep=0pt,font=\fontsize{13}{14}\selectfont] at (577,1935) {[m\textsuperscript{2}/s\textsuperscript{2}]};
\end{tikzpicture}
\end{document}
